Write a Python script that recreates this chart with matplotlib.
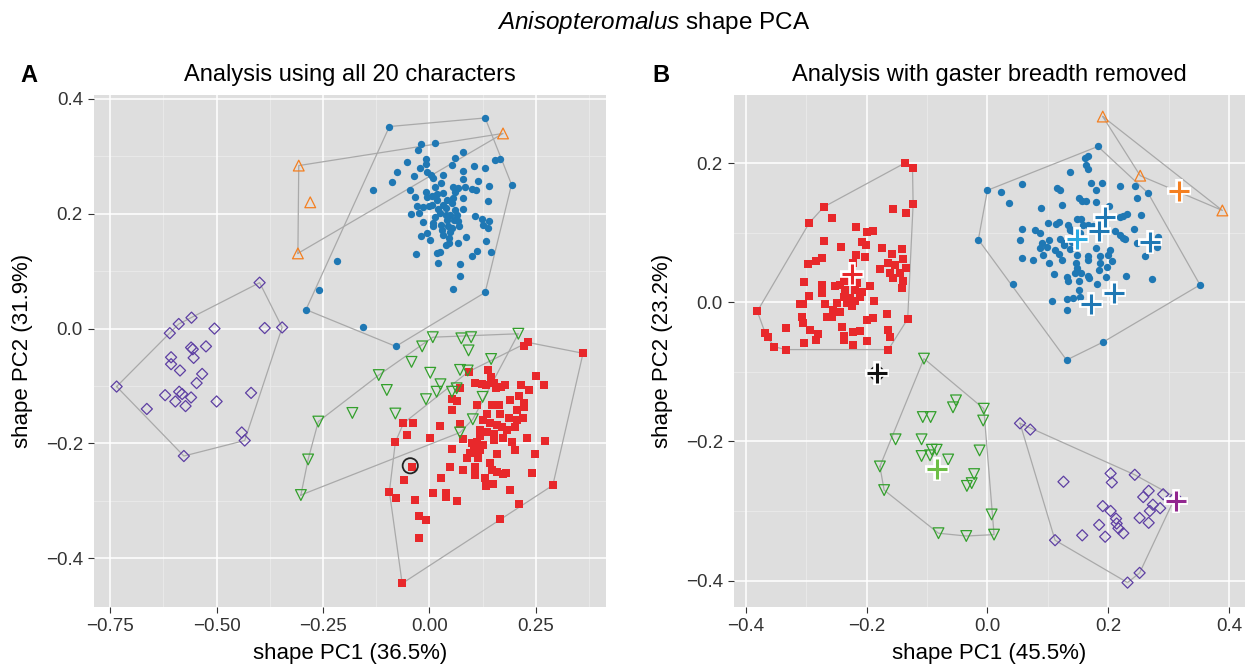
import numpy as np
import matplotlib
matplotlib.use('Agg')
import matplotlib.pyplot as plt

plt.rcParams['font.family'] = ['Liberation Sans', 'DejaVu Sans']
plt.rcParams['mathtext.fontset'] = 'custom'
plt.rcParams['mathtext.rm'] = 'Liberation Sans'
plt.rcParams['mathtext.it'] = 'Liberation Sans:italic'

# ---- panel A: all 20 characters (PC1, PC2) ----
a_orange = [(-0.307, 0.284), (-0.280, 0.220), (-0.309, 0.131), (0.173, 0.340)]

a_blue = [(-0.094, 0.352), (0.131, 0.367), (-0.020, 0.322), (0.013, 0.324), (-0.027, 0.312),
          (0.079, 0.308), (-0.053, 0.290), (-0.009, 0.295), (-0.008, 0.287), (-0.022, 0.280),
          (0.060, 0.298), (0.053, 0.285), (0.104, 0.284), (0.131, 0.280), (0.154, 0.294),
          (0.165, 0.296), (-0.075, 0.272), (-0.037, 0.265), (-0.005, 0.272), (0.004, 0.267),
          (0.009, 0.263), (0.031, 0.267), (0.079, 0.275), (0.079, 0.261), (-0.087, 0.255),
          (0.027, 0.254), (0.014, 0.247), (0.055, 0.247), (0.068, 0.245), (0.084, 0.247),
          (0.100, 0.244), (0.109, 0.242), (0.115, 0.257), (0.140, 0.249), (0.193, 0.251),
          (-0.133, 0.241), (-0.046, 0.241), (-0.034, 0.230), (-0.007, 0.238), (-0.005, 0.230),
          (0.005, 0.231), (0.017, 0.234), (0.033, 0.237), (0.060, 0.238), (0.056, 0.227),
          (0.079, 0.228), (0.053, 0.219), (0.137, 0.223), (-0.030, 0.213), (-0.016, 0.211),
          (0.000, 0.214), (0.006, 0.216), (0.021, 0.208), (0.031, 0.216), (0.039, 0.210),
          (0.079, 0.208), (-0.044, 0.199), (-0.024, 0.201), (0.038, 0.198), (0.049, 0.198),
          (0.064, 0.198), (0.108, 0.197), (-0.016, 0.185), (0.009, 0.184), (0.009, 0.179),
          (0.027, 0.181), (0.041, 0.190), (0.057, 0.190), (0.068, 0.187), (0.043, 0.178),
          (0.053, 0.176), (0.070, 0.179), (0.123, 0.191), (0.141, 0.187), (0.127, 0.181),
          (0.137, 0.175), (-0.019, 0.162), (-0.005, 0.167), (0.002, 0.155), (0.033, 0.163),
          (0.047, 0.158), (0.046, 0.149), (0.086, 0.159), (0.040, 0.145), (0.068, 0.149),
          (0.134, 0.153), (-0.031, 0.130), (0.017, 0.131), (0.026, 0.134), (0.101, 0.126),
          (0.111, 0.135), (0.145, 0.133), (0.020, 0.115), (0.072, 0.112), (0.072, 0.092),
          (0.055, 0.069), (0.131, 0.063), (-0.218, 0.117), (-0.260, 0.067), (-0.290, 0.033),
          (-0.156, 0.003), (-0.079, -0.031), (0.017, 0.224), (0.025, 0.201), (0.041, 0.224),
          (0.013, 0.195), (0.029, 0.172), (0.060, 0.207), (0.049, 0.169)]

a_purple = [(-0.399, 0.080), (-0.559, 0.019), (-0.589, 0.008), (-0.610, -0.008), (-0.505, 0.000),
            (-0.387, 0.001), (-0.346, 0.002), (-0.560, -0.033), (-0.556, -0.036), (-0.525, -0.031),
            (-0.607, -0.050), (-0.607, -0.062), (-0.586, -0.073), (-0.554, -0.051), (-0.534, -0.079),
            (-0.547, -0.095), (-0.735, -0.101), (-0.621, -0.116), (-0.588, -0.110), (-0.581, -0.114),
            (-0.597, -0.127), (-0.560, -0.120), (-0.573, -0.135), (-0.664, -0.140), (-0.500, -0.127),
            (-0.419, -0.112), (-0.441, -0.181), (-0.434, -0.195), (-0.577, -0.222)]

a_green = [(0.008, -0.015), (0.075, -0.017), (0.098, -0.015), (0.209, -0.009), (-0.017, -0.031),
           (0.092, -0.038), (-0.042, -0.058), (-0.119, -0.081), (0.002, -0.077), (0.072, -0.072),
           (0.090, -0.073), (0.145, -0.053), (-0.100, -0.107), (0.026, -0.097), (0.017, -0.110),
           (0.053, -0.110), (0.064, -0.104), (-0.008, -0.123), (0.125, -0.119), (-0.181, -0.147),
           (-0.080, -0.148), (-0.261, -0.162), (0.102, -0.158), (0.072, -0.181), (-0.285, -0.228),
           (-0.302, -0.290)]

a_red = [(0.231, -0.024), (0.223, -0.031), (0.361, -0.043), (0.092, -0.075), (0.137, -0.072),
         (0.144, -0.084), (0.251, -0.083), (0.269, -0.099), (0.106, -0.094), (0.123, -0.097),
         (0.133, -0.098), (0.151, -0.095), (0.157, -0.104), (0.169, -0.101), (0.178, -0.098),
         (0.215, -0.098), (0.233, -0.107), (0.071, -0.104), (0.053, -0.122), (0.066, -0.126),
         (0.053, -0.142), (0.113, -0.133), (0.147, -0.133), (0.163, -0.133), (0.190, -0.124),
         (0.210, -0.117), (0.222, -0.130), (0.222, -0.136), (0.186, -0.156), (0.206, -0.159),
         (0.219, -0.156), (0.202, -0.171), (0.127, -0.159), (0.143, -0.165), (0.159, -0.168),
         (0.170, -0.171), (0.119, -0.177), (0.135, -0.180), (0.151, -0.183), (-0.061, -0.165),
         (-0.038, -0.165), (-0.053, -0.186), (0.026, -0.170), (0.073, -0.166), (0.002, -0.191),
         (0.078, -0.193), (-0.080, -0.198), (0.054, -0.209), (0.100, -0.200), (0.112, -0.197),
         (0.127, -0.203), (0.104, -0.212), (0.119, -0.212), (0.088, -0.226), (0.115, -0.226),
         (0.151, -0.194), (0.174, -0.191), (0.194, -0.197), (0.229, -0.191), (0.271, -0.195),
         (0.200, -0.212), (0.158, -0.219), (0.247, -0.219), (0.049, -0.242), (0.078, -0.246),
         (0.106, -0.241), (0.106, -0.255), (0.147, -0.247), (0.159, -0.249), (0.181, -0.251),
         (0.174, -0.253), (0.240, -0.251), (0.028, -0.261), (-0.059, -0.264), (0.131, -0.261),
         (0.134, -0.274), (0.149, -0.270), (0.189, -0.282), (-0.094, -0.284), (-0.078, -0.296),
         (-0.035, -0.299), (0.009, -0.287), (0.039, -0.286), (0.038, -0.293), (0.064, -0.301),
         (0.210, -0.305), (0.290, -0.273), (0.165, -0.331), (-0.024, -0.327), (-0.007, -0.334),
         (-0.024, -0.364), (-0.064, -0.444), (-0.042, -0.242), (0.135, -0.148), (0.167, -0.148),
         (0.119, -0.188), (0.096, -0.217), (0.143, -0.235), (0.182, -0.177), (0.206, -0.142)]

a_circle = (-0.045, -0.239)

# ---- panel B: gaster breadth removed ----
b_red = [(-0.137, 0.200), (-0.124, 0.193), (-0.123, 0.141), (-0.157, 0.134), (-0.134, 0.128),
         (-0.271, 0.137), (-0.295, 0.114), (-0.257, 0.121), (-0.217, 0.108), (-0.199, 0.101),
         (-0.189, 0.103), (-0.270, 0.088), (-0.242, 0.079), (-0.207, 0.086), (-0.201, 0.083),
         (-0.175, 0.078), (-0.141, 0.076), (-0.158, 0.069), (-0.139, 0.062), (-0.217, 0.068),
         (-0.203, 0.065), (-0.274, 0.063), (-0.284, 0.060), (-0.297, 0.055), (-0.222, 0.056),
         (-0.178, 0.048), (-0.164, 0.056), (-0.153, 0.054), (-0.134, 0.049), (-0.161, 0.042),
         (-0.145, 0.042), (-0.156, 0.035), (-0.139, 0.030), (-0.142, 0.020), (-0.303, 0.029),
         (-0.274, 0.025), (-0.274, 0.013), (-0.252, 0.023), (-0.244, 0.025), (-0.236, 0.018),
         (-0.219, 0.018), (-0.208, 0.015), (-0.194, 0.024), (-0.295, 0.009), (-0.311, -0.002),
         (-0.305, -0.002), (-0.269, -0.002), (-0.249, -0.001), (-0.238, 0.008), (-0.227, 0.006),
         (-0.219, 0.002), (-0.255, -0.011), (-0.244, -0.014), (-0.187, 0.002), (-0.381, -0.013),
         (-0.307, -0.021), (-0.305, -0.030), (-0.334, -0.037), (-0.294, -0.040), (-0.280, -0.045),
         (-0.266, -0.021), (-0.258, -0.021), (-0.241, -0.036), (-0.238, -0.049), (-0.223, -0.043),
         (-0.211, -0.042), (-0.200, -0.025), (-0.190, -0.022), (-0.167, -0.017), (-0.132, -0.024),
         (-0.164, -0.040), (-0.162, -0.050), (-0.368, -0.044), (-0.364, -0.050), (-0.353, -0.064),
         (-0.333, -0.068), (-0.303, -0.059), (-0.283, -0.054), (-0.223, -0.062), (-0.200, -0.055),
         (-0.164, -0.068), (-0.238, -0.054), (-0.227, 0.030), (-0.238, 0.030), (-0.216, 0.027),
         (-0.233, -0.001), (-0.225, -0.006), (-0.211, 0.008)]

b_blue = [(0.183, 0.224), (0.162, 0.207), (0.166, 0.210), (0.164, 0.198), (0.167, 0.191),
          (0.136, 0.187), (0.057, 0.170), (0.116, 0.164), (0.121, 0.162), (0.171, 0.171),
          (0.189, 0.171), (0.179, 0.161), (0.220, 0.167), (0.245, 0.167), (0.266, 0.157),
          (0.023, 0.159), (0.000, 0.161), (0.036, 0.143), (0.088, 0.136), (0.123, 0.140),
          (0.151, 0.150), (0.156, 0.146), (0.163, 0.145), (0.179, 0.144), (0.202, 0.138),
          (0.247, 0.150), (0.255, 0.125), (0.219, 0.122), (0.224, 0.124), (0.231, 0.127),
          (0.100, 0.114), (0.114, 0.112), (0.118, 0.116), (0.134, 0.111), (0.137, 0.106),
          (0.148, 0.119), (0.155, 0.120), (0.159, 0.111), (0.167, 0.111), (0.175, 0.109),
          (0.057, 0.106), (0.079, 0.104), (0.087, 0.099), (0.137, 0.104), (0.142, 0.102),
          (0.153, 0.099), (0.243, 0.106), (0.211, 0.102), (0.220, 0.097), (0.224, 0.093),
          (0.227, 0.091), (0.054, 0.090), (0.091, 0.085), (0.102, 0.089), (0.120, 0.091),
          (0.127, 0.085), (0.140, 0.087), (0.098, 0.079), (0.112, 0.075), (0.126, 0.082),
          (0.137, 0.076), (0.087, 0.078), (0.180, 0.078), (0.203, 0.075), (0.200, 0.068),
          (0.206, 0.059), (0.092, 0.068), (0.119, 0.069), (0.123, 0.061), (0.058, 0.063),
          (0.076, 0.061), (0.102, 0.056), (0.148, 0.068), (0.166, 0.066), (0.167, 0.061),
          (0.187, 0.066), (0.187, 0.056), (0.198, 0.051), (0.247, 0.085), (0.280, 0.080),
          (0.283, 0.094), (0.261, 0.067), (0.146, 0.056), (0.148, 0.049), (0.110, 0.041),
          (0.145, 0.042), (0.155, 0.042), (0.167, 0.038), (0.169, 0.035), (0.185, 0.047),
          (0.196, 0.037), (0.230, 0.038), (0.272, 0.034), (0.042, 0.026), (0.131, 0.037),
          (0.134, 0.030), (0.151, 0.030), (0.181, 0.026), (0.151, 0.018), (0.107, 0.002),
          (0.131, 0.004), (0.142, 0.006), (0.153, 0.007), (0.131, -0.011), (0.352, 0.025),
          (0.192, -0.057), (0.131, -0.083), (-0.015, 0.090)]

b_orange = [(0.191, 0.267), (0.253, 0.182), (0.389, 0.132)]

b_green = [(-0.105, -0.081), (-0.052, -0.141), (-0.057, -0.151), (-0.006, -0.153), (-0.007, -0.170),
           (-0.107, -0.165), (-0.094, -0.165), (-0.152, -0.197), (-0.109, -0.197), (-0.092, -0.212),
           (-0.084, -0.212), (-0.109, -0.221), (-0.065, -0.226), (-0.013, -0.213), (-0.178, -0.236),
           (-0.022, -0.247), (-0.034, -0.264), (-0.026, -0.260), (-0.171, -0.270), (0.007, -0.305),
           (-0.081, -0.332), (-0.035, -0.336), (0.011, -0.334), (-0.095, -0.220)]

b_purple = [(0.054, -0.174), (0.071, -0.183), (0.126, -0.258), (0.204, -0.246), (0.206, -0.259),
            (0.244, -0.248), (0.267, -0.271), (0.258, -0.280), (0.291, -0.276), (0.274, -0.291),
            (0.286, -0.296), (0.191, -0.293), (0.204, -0.300), (0.213, -0.311), (0.214, -0.318),
            (0.217, -0.325), (0.225, -0.332), (0.185, -0.320), (0.157, -0.335), (0.195, -0.337),
            (0.252, -0.310), (0.267, -0.317), (0.112, -0.342), (0.252, -0.389), (0.232, -0.403),
            (0.269, -0.300), (0.311, -0.280)]

# type specimens / centroids in panel B
b_cross_x = [-0.225, 0.194, 0.185, 0.149, 0.270, 0.209, 0.171, 0.318, -0.084, 0.312, -0.183]
b_cross_y = [0.041, 0.123, 0.103, 0.091, 0.087, 0.014, -0.003, 0.160, -0.240, -0.285, -0.102]
b_cross_col = ['#E8282B', '#1F78B4', '#1F78B4', '#27AAE1', '#1F78B4', '#1F78B4', '#1F78B4',
               '#F47F20', '#6CBE45', '#92278F', '#111111']

BLUE, RED, GREEN, ORANGE, PURPLE = '#1F78B4', '#E8282B', '#33A02C', '#F47F20', '#5E3FA3'
HULL = '#A9A9A9'


def hull(pts):
    pts = sorted(set(map(tuple, pts)))

    def cross(o, a, b):
        return (a[0] - o[0]) * (b[1] - o[1]) - (a[1] - o[1]) * (b[0] - o[0])
    lower, upper = [], []
    for p in pts:
        while len(lower) >= 2 and cross(lower[-2], lower[-1], p) <= 0:
            lower.pop()
        lower.append(p)
    for p in reversed(pts):
        while len(upper) >= 2 and cross(upper[-2], upper[-1], p) <= 0:
            upper.pop()
        upper.append(p)
    h = lower[:-1] + upper[:-1]
    h.append(h[0])
    return np.array(h)


def group(ax, pts, marker, size, color, filled):
    pts = np.array(pts)
    h = hull(pts)
    ax.plot(h[:, 0], h[:, 1], color=HULL, lw=0.9, zorder=2)
    if filled:
        ax.scatter(pts[:, 0], pts[:, 1], marker=marker, s=size, color=color,
                   linewidths=0, zorder=3)
    else:
        ax.scatter(pts[:, 0], pts[:, 1], marker=marker, s=size, facecolors='none',
                   edgecolors=color, linewidths=0.9, zorder=3)


def style(ax, xlim, ylim, xmaj, xmin, ymaj, ymin, xlab, ylab):
    ax.set_facecolor('#DEDEDE')
    ax.set_xlim(xlim)
    ax.set_ylim(ylim)
    for v in xmin:
        ax.axvline(v, color='#EBEBEB', lw=0.6, zorder=0)
    for v in ymin:
        ax.axhline(v, color='#EBEBEB', lw=0.6, zorder=0)
    for v in xmaj:
        ax.axvline(v, color='white', lw=1.1, zorder=1)
    for v in ymaj:
        ax.axhline(v, color='white', lw=1.1, zorder=1)
    ax.set_xticks(xmaj)
    ax.set_yticks(ymaj)
    ax.set_xticklabels(xlab)
    ax.set_yticklabels(ylab)
    for s in ax.spines.values():
        s.set_visible(False)
    ax.tick_params(length=4, width=0.8, color='#333333', labelcolor='#333333',
                   labelsize=13.5, pad=4)


fig = plt.figure(figsize=(12.49, 6.67), dpi=100)
axA = fig.add_axes([0.0753, 0.0900, 0.4099, 0.7676])
axB = fig.add_axes([0.5877, 0.0900, 0.4091, 0.7676])

style(axA, (-0.788, 0.415), (-0.485, 0.407),
      [-0.75, -0.5, -0.25, 0, 0.25], [-0.625, -0.375, -0.125, 0.125, 0.375],
      [-0.4, -0.2, 0, 0.2, 0.4], [-0.3, -0.1, 0.1, 0.3],
      ['\u22120.75', '\u22120.50', '\u22120.25', '0.00', '0.25'],
      ['\u22120.4', '\u22120.2', '0.0', '0.2', '0.4'])
style(axB, (-0.4195, 0.4265), (-0.438, 0.298),
      [-0.4, -0.2, 0, 0.2, 0.4], [-0.3, -0.1, 0.1, 0.3],
      [-0.4, -0.2, 0, 0.2], [-0.3, -0.1, 0.1],
      ['\u22120.4', '\u22120.2', '0.0', '0.2', '0.4'],
      ['\u22120.4', '\u22120.2', '0.0', '0.2'])

# panel A
group(axA, a_orange, '^', 60, ORANGE, False)
group(axA, a_blue, 'o', 28, BLUE, True)
group(axA, a_purple, 'D', 32, PURPLE, False)
group(axA, a_red, 's', 30, RED, True)
group(axA, a_green, 'v', 60, GREEN, False)
axA.scatter([a_circle[0]], [a_circle[1]], s=120, facecolors='none', edgecolors='#222222',
            linewidths=1.3, zorder=5)

# panel B
group(axB, b_red, 's', 30, RED, True)
group(axB, b_blue, 'o', 28, BLUE, True)
group(axB, b_orange, '^', 60, ORANGE, False)
group(axB, b_green, 'v', 60, GREEN, False)
group(axB, b_purple, 'D', 32, PURPLE, False)
axB.scatter([b_cross_x[-1]], [b_cross_y[-1]], s=90, facecolors='none', edgecolors='#222222',
            linewidths=1.3, zorder=5)
for x, y, c in zip(b_cross_x, b_cross_y, b_cross_col):
    axB.plot(x, y, marker='+', ms=17, mew=5.5, color='white', zorder=6)
    axB.plot(x, y, marker='+', ms=14, mew=2.2, color=c, zorder=7)

axA.set_title('Analysis using all 20 characters', fontsize=17, pad=10)
axB.set_title('Analysis with gaster breadth removed', fontsize=17, pad=10)
axA.set_xlabel('shape PC1 (36.5%)', fontsize=16, labelpad=6)
axA.set_ylabel('shape PC2 (31.9%)', fontsize=16, labelpad=9)
axB.set_xlabel('shape PC1 (45.5%)', fontsize=16, labelpad=6)
axB.set_ylabel('shape PC2 (23.2%)', fontsize=16, labelpad=9)

fig.text(0.016, 0.887, 'A', fontsize=17, fontweight='bold', va='center')
fig.text(0.522, 0.887, 'B', fontsize=17, fontweight='bold', va='center')
fig.text(0.523, 0.966, r'$\it{Anisopteromalus}$ shape PCA', fontsize=17.5, ha='center', va='center')

fig.savefig('out.png', dpi=100)
